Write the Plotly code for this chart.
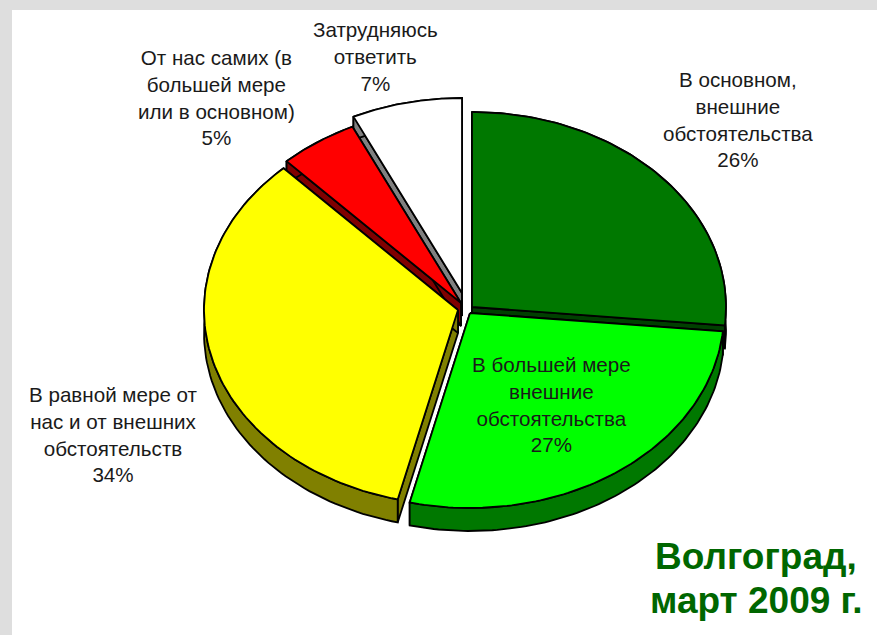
import numpy as np
import plotly.graph_objects as go

categories = ["В основном,<br>внешние<br>обстоятельства",
              "В большей мере<br>внешние<br>обстоятельства",
              "В равной мере от<br>нас и от внешних<br>обстоятельств",
              "От нас самих (в<br>большей мере<br>или в основном)",
              "Затрудняюсь<br>ответить"]
values = [26.4, 27.2, 34, 5, 7]
top_colors = ["#007800", "#00FF00", "#FFFF00", "#FF0000", "#FFFFFF"]
side_colors = ["#004000", "#007800", "#808000", "#800000", "#808080"]
# centre of each exploded slice, in page pixels
centres = [(472, 307), (470, 313), (458, 310), (461, 303), (462, 293)]
label_pos = [(738, 119), (551, 404), (113, 434), (216, 97), (375, 56)]
note_lines = ["Волгоград,", "март 2009 г."]

RX, RY, DEPTH = 254, 195, 23
W, H = 877, 635

fracs = np.cumsum([0] + values) / sum(values) * 2 * np.pi


def arc(i):
    t = np.linspace(fracs[i], fracs[i + 1], 90)
    cx, cy = centres[i]
    return cx + RX * np.sin(t), cy - RY * np.cos(t)


def poly(x, y, fill):
    return go.Scatter(x=np.append(x, x[0]), y=np.append(y, y[0]), mode="lines", fill="toself",
                      fillcolor=fill, line=dict(color="#000000", width=1.8),
                      hoverinfo="skip", showlegend=False)


fig = go.Figure()
for i in [4, 3, 0, 2, 1]:
    cx, cy = centres[i]
    ax, ay = arc(i)
    for k in (0, -1):
        fig.add_trace(poly(np.array([cx, ax[k], ax[k], cx]),
                           np.array([cy, ay[k], ay[k] + DEPTH, cy + DEPTH]), side_colors[i]))
    fig.add_trace(poly(np.concatenate([ax, ax[::-1]]),
                       np.concatenate([ay, ay[::-1] + DEPTH]), side_colors[i]))
    fig.add_trace(poly(np.concatenate([[cx], ax]), np.concatenate([[cy], ay]), top_colors[i]))

annotations = []
for cat, val, (lx, ly) in zip(categories, values, label_pos):
    annotations.append(dict(x=lx, y=ly, text=f"{cat}<br>{round(val)}%", showarrow=False, align="center",
                            xanchor="center", yanchor="middle",
                            font=dict(family="Liberation Sans, Arial", size=20.6, color="#1a1a1a")))
for line, ly in zip(note_lines, [556, 600]):
    annotations.append(dict(x=756, y=ly, text=f"<b>{line}</b>", showarrow=False,
                            xanchor="center", yanchor="middle",
                            font=dict(family="Liberation Sans, Arial", size=37, color="#006600")))

fig.update_layout(
    width=W, height=H, margin=dict(l=0, r=0, t=0, b=0), paper_bgcolor="#DEDEDE", plot_bgcolor="#DEDEDE",
    xaxis=dict(range=[0, W], visible=False, fixedrange=True),
    yaxis=dict(range=[H, 0], visible=False, fixedrange=True),
    shapes=[dict(type="rect", x0=12, y0=10, x1=W, y1=H, fillcolor="#FFFFFF", line_width=0, layer="below")],
    annotations=annotations, showlegend=False,
)
fig.write_html("out.html", post_script="document.body.style.margin='0';", config={"displayModeBar": False})
